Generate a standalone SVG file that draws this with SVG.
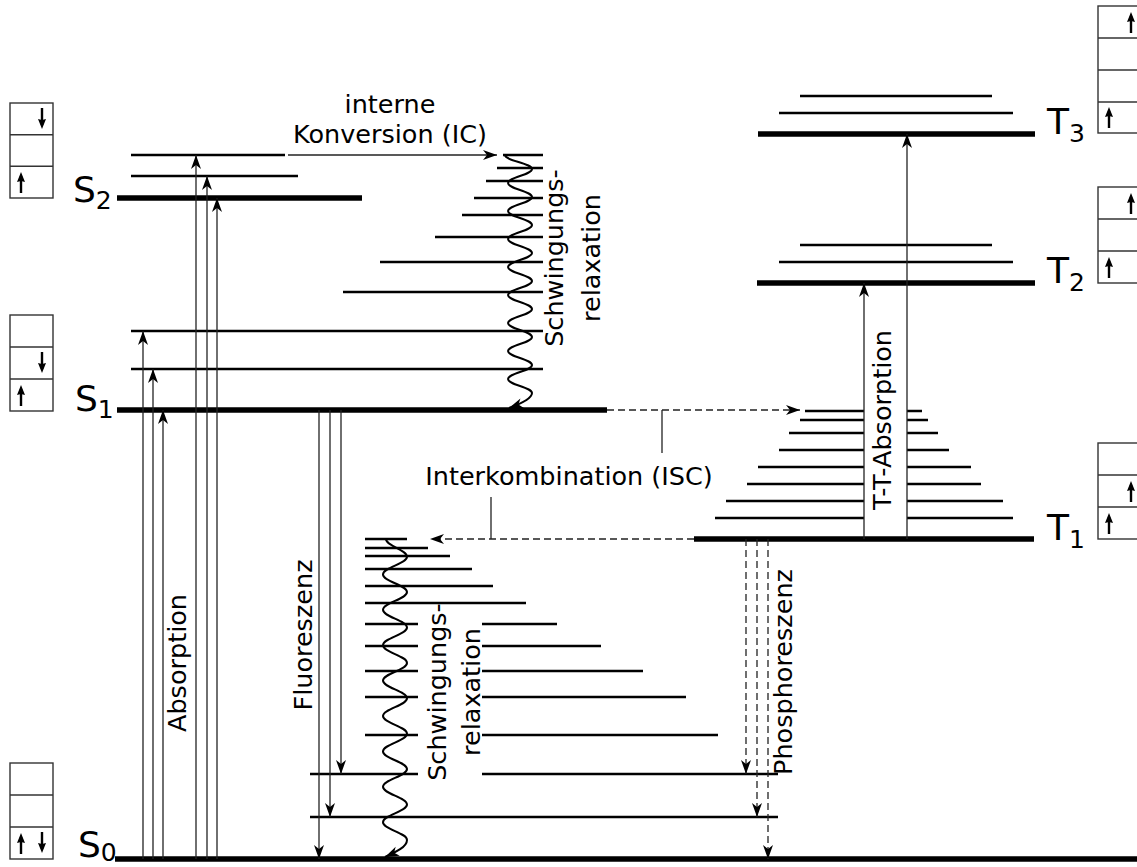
<svg xmlns="http://www.w3.org/2000/svg" width="1137" height="867" viewBox="0 0 1137 867">
<defs>
<style>
.v{stroke:#000;stroke-width:2.5}
.g{stroke:#000;stroke-width:5.5}
.a{stroke:#222;stroke-width:1.3;fill:none}
.d{stroke-dasharray:7 4}
.w{stroke:#000;stroke-width:2;fill:none}
.bx{fill:none;stroke:#333;stroke-width:1.4}
.sp{stroke:#000;stroke-width:2.4}
text{font-family:"DejaVu Sans",sans-serif;fill:#000}
.lb{font-size:25.5px}
.big{font-size:36px}
.sub{font-size:25px}
</style>
<marker id="ah" viewBox="-15 -6 16 12" refX="0" refY="0" markerWidth="16" markerHeight="12" orient="auto" markerUnits="userSpaceOnUse"><path d="M0,0 L-14,-5 L-10,0 L-14,5 Z" fill="#000"/></marker>
<marker id="sa" viewBox="-7 -5 12 10" refX="0" refY="0" markerWidth="12" markerHeight="10" orient="auto" markerUnits="userSpaceOnUse"><path d="M4,0 L-6,-4 L-5,0 L-6,4 Z" fill="#000"/></marker>
</defs>

<g id="S2">
<line class="g" x1="117" y1="198" x2="362" y2="198"/>
<line class="v" x1="131" y1="176" x2="298" y2="176"/>
<line class="v" x1="131" y1="155" x2="285" y2="155"/>
<text class="big" x="73" y="202">S<tspan class="sub" dy="7">2</tspan></text>
<rect class="bx" x="10" y="103" width="43" height="95"/>
<line class="bx" x1="10" y1="134.7" x2="53" y2="134.7"/>
<line class="bx" x1="10" y1="166.3" x2="53" y2="166.3"/>
<line class="sp" x1="42" y1="108" x2="42" y2="125" marker-end="url(#sa)"/>
<line class="sp" x1="21" y1="193" x2="21" y2="176" marker-end="url(#sa)"/>
</g>

<g id="S1">
<line class="g" x1="117" y1="410" x2="607" y2="410"/>
<line class="v" x1="131" y1="331" x2="543" y2="331"/>
<line class="v" x1="131" y1="369" x2="543" y2="369"/>
<line class="v" x1="503" y1="155" x2="543" y2="155"/>
<line class="v" x1="497" y1="168" x2="543" y2="168"/>
<line class="v" x1="486" y1="181" x2="543" y2="181"/>
<line class="v" x1="474" y1="198" x2="543" y2="198"/>
<line class="v" x1="462" y1="215" x2="543" y2="215"/>
<line class="v" x1="435" y1="237" x2="543" y2="237"/>
<line class="v" x1="380" y1="262" x2="543" y2="262"/>
<line class="v" x1="343" y1="292" x2="543" y2="292"/>
<text class="big" x="75" y="411">S<tspan class="sub" dy="7">1</tspan></text>
<rect class="bx" x="10" y="315" width="43" height="96"/>
<line class="bx" x1="10" y1="347" x2="53" y2="347"/>
<line class="bx" x1="10" y1="379" x2="53" y2="379"/>
<line class="sp" x1="42" y1="352" x2="42" y2="369" marker-end="url(#sa)"/>
<line class="sp" x1="21" y1="406" x2="21" y2="389" marker-end="url(#sa)"/>
</g>

<g id="S0">
<line class="g" x1="115" y1="859" x2="1137" y2="859"/>
<line class="v" x1="365" y1="539" x2="407" y2="539"/>
<line class="v" x1="365" y1="548" x2="428" y2="548"/>
<line class="v" x1="365" y1="556" x2="450" y2="556"/>
<line class="v" x1="365" y1="569" x2="472" y2="569"/>
<line class="v" x1="365" y1="586" x2="493" y2="586"/>
<line class="v" x1="365" y1="603" x2="526" y2="603"/>
<line class="v" x1="365" y1="624" x2="418" y2="624"/>
<line class="v" x1="482" y1="624" x2="557" y2="624"/>
<line class="v" x1="365" y1="646" x2="418" y2="646"/>
<line class="v" x1="482" y1="646" x2="601" y2="646"/>
<line class="v" x1="365" y1="671" x2="418" y2="671"/>
<line class="v" x1="482" y1="671" x2="643" y2="671"/>
<line class="v" x1="365" y1="697" x2="418" y2="697"/>
<line class="v" x1="482" y1="697" x2="686" y2="697"/>
<line class="v" x1="365" y1="735" x2="418" y2="735"/>
<line class="v" x1="482" y1="735" x2="718" y2="735"/>
<line class="v" x1="310" y1="774" x2="418" y2="774"/>
<line class="v" x1="482" y1="774" x2="778" y2="774"/>
<line class="v" x1="310" y1="817" x2="778" y2="817"/>
<text class="big" x="78" y="857">S<tspan class="sub" dy="4">0</tspan></text>
<rect class="bx" x="10" y="763" width="43" height="96"/>
<line class="bx" x1="10" y1="795" x2="53" y2="795"/>
<line class="bx" x1="10" y1="827" x2="53" y2="827"/>
<line class="sp" x1="21" y1="854" x2="21" y2="837" marker-end="url(#sa)"/>
<line class="sp" x1="42" y1="832" x2="42" y2="849" marker-end="url(#sa)"/>
</g>

<g id="T1">
<line class="g" x1="694" y1="539" x2="1034" y2="539"/>
<line class="v" x1="805" y1="411" x2="864" y2="411"/><line class="v" x1="907" y1="411" x2="922" y2="411"/>
<line class="v" x1="800" y1="420" x2="864" y2="420"/><line class="v" x1="907" y1="420" x2="928" y2="420"/>
<line class="v" x1="789" y1="433" x2="864" y2="433"/><line class="v" x1="907" y1="433" x2="938" y2="433"/>
<line class="v" x1="779" y1="450" x2="864" y2="450"/><line class="v" x1="907" y1="450" x2="949" y2="450"/>
<line class="v" x1="758" y1="467" x2="864" y2="467"/><line class="v" x1="907" y1="467" x2="971" y2="467"/>
<line class="v" x1="747" y1="484" x2="864" y2="484"/><line class="v" x1="907" y1="484" x2="981" y2="484"/>
<line class="v" x1="726" y1="501" x2="864" y2="501"/><line class="v" x1="907" y1="501" x2="1003" y2="501"/>
<line class="v" x1="715" y1="518" x2="864" y2="518"/><line class="v" x1="907" y1="518" x2="1013" y2="518"/>
<text class="big" x="1047" y="540">T<tspan class="sub" dy="8">1</tspan></text>
<rect class="bx" x="1098" y="443" width="43" height="96"/>
<line class="bx" x1="1098" y1="475" x2="1141" y2="475"/>
<line class="bx" x1="1098" y1="507" x2="1141" y2="507"/>
<line class="sp" x1="1131" y1="502" x2="1131" y2="485" marker-end="url(#sa)"/>
<line class="sp" x1="1109" y1="534" x2="1109" y2="517" marker-end="url(#sa)"/>
</g>

<g id="T2">
<line class="g" x1="757" y1="283" x2="1035" y2="283"/>
<line class="v" x1="779" y1="262" x2="1013" y2="262"/>
<line class="v" x1="800" y1="245" x2="992" y2="245"/>
<text class="big" x="1047" y="283">T<tspan class="sub" dy="8">2</tspan></text>
<rect class="bx" x="1098" y="187" width="43" height="96"/>
<line class="bx" x1="1098" y1="219" x2="1141" y2="219"/>
<line class="bx" x1="1098" y1="251" x2="1141" y2="251"/>
<line class="sp" x1="1131" y1="214" x2="1131" y2="197" marker-end="url(#sa)"/>
<line class="sp" x1="1109" y1="278" x2="1109" y2="261" marker-end="url(#sa)"/>
</g>

<g id="T3">
<line class="g" x1="758" y1="134" x2="1035" y2="134"/>
<line class="v" x1="779" y1="113" x2="1013" y2="113"/>
<line class="v" x1="800" y1="96" x2="992" y2="96"/>
<text class="big" x="1047" y="134">T<tspan class="sub" dy="8">3</tspan></text>
<rect class="bx" x="1098" y="6" width="43" height="127"/>
<line class="bx" x1="1098" y1="38" x2="1141" y2="38"/>
<line class="bx" x1="1098" y1="70" x2="1141" y2="70"/>
<line class="bx" x1="1098" y1="102" x2="1141" y2="102"/>
<line class="sp" x1="1131" y1="33" x2="1131" y2="16" marker-end="url(#sa)"/>
<line class="sp" x1="1109" y1="128" x2="1109" y2="111" marker-end="url(#sa)"/>
</g>

<g id="connectors">
<line class="a" x1="143" y1="859" x2="143" y2="331" marker-end="url(#ah)"/>
<line class="a" x1="153" y1="859" x2="153" y2="369" marker-end="url(#ah)"/>
<line class="a" x1="163" y1="859" x2="163" y2="410" marker-end="url(#ah)"/>
<line class="a" x1="196" y1="859" x2="196" y2="155" marker-end="url(#ah)"/>
<line class="a" x1="207" y1="859" x2="207" y2="176" marker-end="url(#ah)"/>
<line class="a" x1="217" y1="859" x2="217" y2="198" marker-end="url(#ah)"/>
<line class="a" x1="319" y1="410" x2="319" y2="859" marker-end="url(#ah)"/>
<line class="a" x1="330" y1="410" x2="330" y2="817" marker-end="url(#ah)"/>
<line class="a" x1="341" y1="410" x2="341" y2="774" marker-end="url(#ah)"/>
<line class="a d" x1="746" y1="539" x2="746" y2="774" marker-end="url(#ah)"/>
<line class="a d" x1="757" y1="539" x2="757" y2="817" marker-end="url(#ah)"/>
<line class="a d" x1="768" y1="539" x2="768" y2="859" marker-end="url(#ah)"/>
<line class="a" x1="288" y1="155" x2="497" y2="155" marker-end="url(#ah)"/>
<line class="a d" x1="607" y1="410" x2="800" y2="410" marker-end="url(#ah)"/>
<line class="a d" x1="694" y1="539" x2="430" y2="539" marker-end="url(#ah)"/>
<line class="a" x1="662" y1="410" x2="662" y2="453"/>
<line class="a" x1="491" y1="497" x2="491" y2="539"/>
<line class="a" x1="864" y1="539" x2="864" y2="283" marker-end="url(#ah)"/>
<line class="a" x1="907" y1="539" x2="907" y2="134" marker-end="url(#ah)"/>
<path class="w" marker-end="url(#ah)" d="M505,155 C505,160.6 532,163.4 532,169 S508,177.4 508,183 S532,191.4 532,197 S508,205.4 508,211 S532,219.4 532,225 S508,233.4 508,239 S532,247.4 532,253 S508,261.4 508,267 S532,275.4 532,281 S508,289.4 508,295 S532,303.4 532,309 S508,317.4 508,323 S532,331.4 532,337 S508,345.4 508,351 S532,359.4 532,365 S508,373.4 508,379 S532,387.4 532,393 C532,398.6 520,404 509,408"/>
<path class="w" marker-end="url(#ah)" d="M386,539 C386,546 407,549.7 407,556.7 S383,567.4 383,574.4 S407,585.1 407,592.1 S383,602.8 383,609.8 S407,620.5 407,627.5 S383,638.2 383,645.2 S407,655.9 407,662.9 S383,673.6 383,680.6 S407,691.3 407,698.3 S383,709 383,716 S407,726.7 407,733.7 S383,744.4 383,751.4 S407,762.1 407,769.1 S383,779.8 383,786.8 S407,797.5 407,804.5 S383,815.2 383,822.2 S407,832.9 407,839.9 C407,846.9 396,852 385,857"/>
<text class="lb" x="390" y="113" text-anchor="middle">interne</text>
<text class="lb" x="390" y="143" text-anchor="middle">Konversion (IC)</text>
<text class="lb" x="569" y="485" text-anchor="middle">Interkombination (ISC)</text>
<text class="lb" text-anchor="middle" transform="translate(186,663) rotate(-90)">Absorption</text>
<text class="lb" text-anchor="middle" transform="translate(312,635) rotate(-90)">Fluoreszenz</text>
<text class="lb" text-anchor="middle" transform="translate(792,672) rotate(-90)">Phosphoreszenz</text>
<text class="lb" text-anchor="middle" transform="translate(891,420) rotate(-90)">T-T-Absorption</text>
<text class="lb" text-anchor="middle" transform="translate(563,258) rotate(-90)">Schwingungs-</text>
<text class="lb" text-anchor="middle" transform="translate(600,258) rotate(-90)">relaxation</text>
<text class="lb" text-anchor="middle" transform="translate(446,692) rotate(-90)">Schwingungs-</text>
<text class="lb" text-anchor="middle" transform="translate(480,692) rotate(-90)">relaxation</text>
</g>
</svg>
